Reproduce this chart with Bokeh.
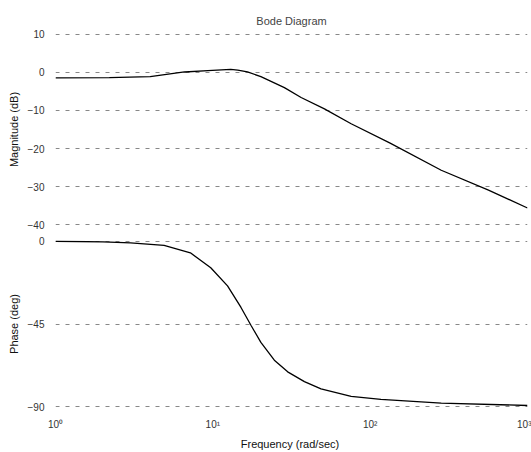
from bokeh.plotting import figure
from bokeh.layouts import column
from bokeh.models import FixedTicker, Range1d
from bokeh.embed import file_html
from bokeh.resources import INLINE

# Magnitude response (rad/sec, dB)
w_mag = [1, 2.2, 4.0, 6.6, 9.3, 13.0, 14.4, 16.6, 20.2, 28.5, 36.4, 51.2, 75.7, 133, 283, 565, 1000]
mag_db = [-1.45, -1.4, -1.1, 0.1, 0.45, 0.8, 0.6, 0.1, -1.1, -4.0, -6.6, -9.6, -13.5, -18.5, -25.7, -30.9, -35.6]

# Phase response (rad/sec, deg)
w_ph = [1, 2.0, 3.0, 4.9, 7.2, 9.7, 12.4, 15.1, 17.5, 20.2, 24.6, 29.9, 38.2, 48.7, 75.7, 117, 283, 1000]
phase_deg = [0, -0.3, -0.9, -2.3, -6.3, -14.4, -24.3, -36, -45.8, -55.0, -64.7, -71, -76.3, -80.3, -84.4, -86, -88, -89.3]

x_ticks = [1, 10, 100, 1000]
x_labels = {1: "10⁰", 10: "10¹", 100: "10²", 1000: "10³"}
mag_ticks = [10, 0, -10, -20, -30, -40]
ph_ticks = [0, -45, -90]

FONT = "Liberation Sans"
GRID = "#555555"


def style(p):
    p.outline_line_color = None
    p.background_fill_color = "white"
    p.border_fill_color = "white"
    for ax in p.axis:
        ax.axis_line_color = None
        ax.major_tick_line_color = None
        ax.minor_tick_line_color = None
        ax.major_label_text_font = FONT
        ax.major_label_text_font_size = "10px"
        ax.major_label_text_color = "#333333"
        ax.axis_label_text_font = FONT
        ax.axis_label_text_font_size = "11px"
        ax.axis_label_text_font_style = "normal"
        ax.axis_label_text_color = "#111111"
    p.xgrid.grid_line_color = None
    p.ygrid.grid_line_color = GRID
    p.ygrid.grid_line_dash = "4 6"
    p.ygrid.grid_line_width = 1
    p.ygrid.grid_line_alpha = 0.7


p1 = figure(width=531, height=232, x_axis_type="log", output_backend="svg",
            toolbar_location=None, x_range=Range1d(1, 1000), y_range=Range1d(-40.2, 10.2),
            min_border_left=55, min_border_right=4, min_border_top=33, min_border_bottom=7,
            title="Bode Diagram")
p1.title.align = "center"
p1.title.text_font = FONT
p1.title.text_font_size = "11px"
p1.title.text_font_style = "normal"
p1.title.standoff = 14
p1.line(w_mag, mag_db, line_color="black", line_width=1.3)
p1.xaxis.visible = False
p1.yaxis.ticker = FixedTicker(ticks=mag_ticks)
p1.yaxis.axis_label = "Magnitude (dB)"
style(p1)

p2 = figure(width=531, height=220, x_axis_type="log", output_backend="svg",
            toolbar_location=None, x_range=p1.x_range, y_range=Range1d(-90.4, 0.4),
            min_border_left=55, min_border_right=4, min_border_top=8, min_border_bottom=45)
p2.line(w_ph, phase_deg, line_color="black", line_width=1.3)
p2.yaxis.ticker = FixedTicker(ticks=ph_ticks)
p2.xaxis.ticker = FixedTicker(ticks=x_ticks)
p2.xaxis.major_label_overrides = x_labels
p2.yaxis.axis_label = "Phase (deg)"
p2.xaxis.axis_label = "Frequency  (rad/sec)"
style(p2)

layout = column(p1, p2, spacing=0)
open("out.html", "w").write(file_html(layout, INLINE))
